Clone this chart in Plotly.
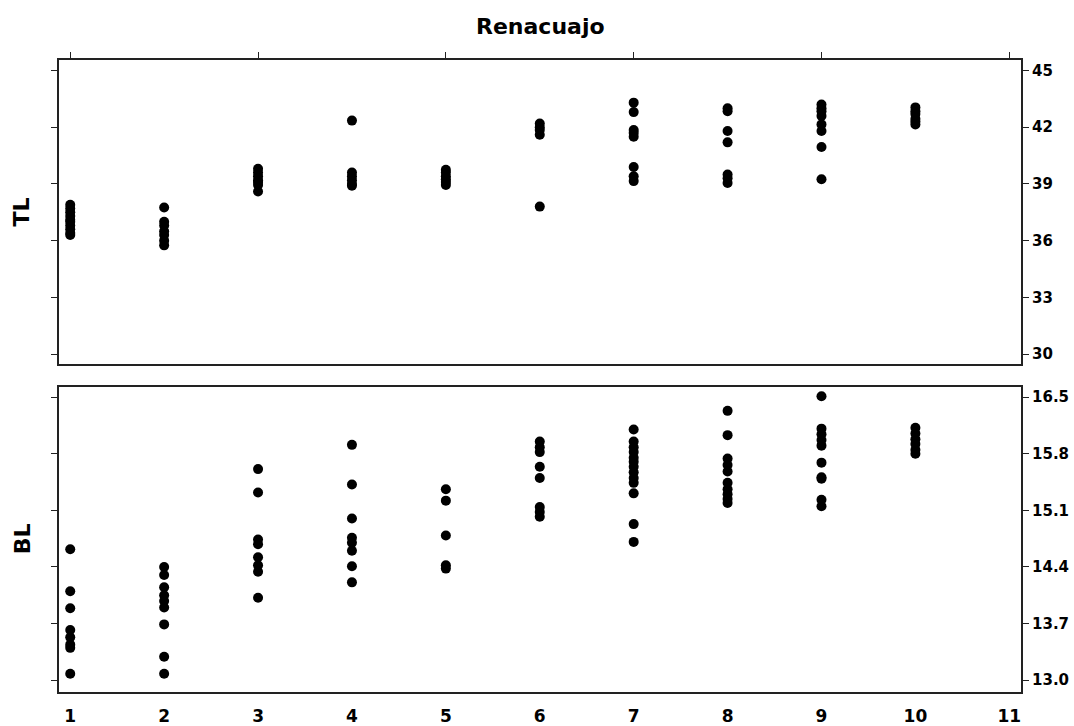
import plotly.graph_objects as go

# Tadpole number (group) on the x axis
groups = [1, 2, 3, 4, 5, 6, 7, 8, 9, 10]

# Total length (TL) per tadpole, one list per group
tl_by_group = [
    [37.9, 37.7, 37.5, 37.3, 37.1, 37.0, 36.8, 36.6, 36.4, 36.3],
    [37.75, 37.0, 36.8, 36.5, 36.3, 36.0, 35.75],
    [39.8, 39.6, 39.4, 39.2, 39.1, 38.95, 38.6],
    [42.35, 39.6, 39.4, 39.2, 39.0, 38.9],
    [39.75, 39.6, 39.4, 39.25, 39.1, 38.95],
    [42.2, 42.0, 41.85, 41.6, 37.8],
    [43.3, 42.8, 41.85, 41.7, 41.5, 39.9, 39.4, 39.15],
    [43.0, 42.85, 41.8, 41.2, 39.5, 39.3, 39.05],
    [43.2, 43.0, 42.85, 42.6, 42.15, 41.8, 40.95, 39.25],
    [43.05, 42.85, 42.7, 42.45, 42.3, 42.15],
]

# Body length (BL) per tadpole, one list per group
bl_by_group = [
    [14.62, 14.10, 13.89, 13.62, 13.53, 13.44, 13.40, 13.08],
    [14.40, 14.30, 14.15, 14.05, 13.98, 13.90, 13.69, 13.29, 13.08],
    [15.61, 15.32, 14.74, 14.68, 14.52, 14.42, 14.34, 14.02],
    [15.91, 15.42, 15.00, 14.76, 14.70, 14.60, 14.41, 14.21],
    [15.36, 15.22, 14.79, 14.42, 14.38],
    [15.95, 15.88, 15.82, 15.64, 15.50, 15.14, 15.08, 15.02],
    [16.10, 15.95, 15.88, 15.82, 15.75, 15.70, 15.64, 15.57, 15.50, 15.44, 15.31, 14.93, 14.71],
    [16.33, 16.03, 15.74, 15.66, 15.58, 15.44, 15.36, 15.30, 15.24, 15.19],
    [16.51, 16.11, 16.04, 15.97, 15.90, 15.69, 15.51, 15.49, 15.23, 15.15],
    [16.12, 16.05, 15.98, 15.92, 15.85, 15.80],
]

x_ticks_all = list(range(1, 12))
x_ticks_odd = [1, 3, 5, 7, 9, 11]
tl_ticks = [30, 33, 36, 39, 42, 45]
bl_ticks = [13.0, 13.7, 14.4, 15.1, 15.8, 16.5]
bl_tick_text = ["13.0", "13.7", "14.4", "15.1", "15.8", "16.5"]


def flatten(values_by_group):
    xs, ys = [], []
    for g, vals in zip(groups, values_by_group):
        xs.extend([g] * len(vals))
        ys.extend(vals)
    return xs, ys


tl_x, tl_y = flatten(tl_by_group)
bl_x, bl_y = flatten(bl_by_group)

marker = dict(color="black", size=10, line=dict(width=0))

fig = go.Figure()
fig.add_trace(go.Scatter(x=tl_x, y=tl_y, mode="markers", marker=marker,
                         xaxis="x", yaxis="y", showlegend=False))
fig.add_trace(go.Scatter(x=bl_x, y=bl_y, mode="markers", marker=marker,
                         xaxis="x2", yaxis="y2", showlegend=False))

x_range = [0.88, 11.125]
x_dom = [0.0549, 0.9507]
frame = dict(showline=True, linecolor="#222222", linewidth=2, showgrid=False,
             zeroline=False, tickcolor="#222222", tickwidth=1)
num_font = dict(family="DejaVu Sans", size=15, color="black", weight="bold")

fig.update_layout(
    width=1074, height=726,
    margin=dict(l=0, r=0, t=0, b=0),
    paper_bgcolor="white", plot_bgcolor="white",
    xaxis=dict(**frame, domain=x_dom, range=x_range, anchor="y", side="top",
               mirror=True, tickvals=x_ticks_odd, ticks="outside", ticklen=6,
               showticklabels=False),
    yaxis=dict(**frame, domain=[0.4945, 0.9174], range=[29.45, 45.58],
               anchor="x", side="right", mirror="ticks", tickvals=tl_ticks,
               ticks="outside", ticklen=6, tickfont=num_font),
    xaxis2=dict(**frame, domain=x_dom, range=x_range, anchor="y2", side="bottom",
                mirror=True, tickvals=x_ticks_all, ticks="", ticklabelstandoff=8,
                tickfont=dict(family="DejaVu Sans", size=17, color="black",
                              weight="bold")),
    xaxis3=dict(range=x_range, overlaying="x2", anchor="y2", side="bottom",
                showline=False, showgrid=False, zeroline=False,
                tickvals=x_ticks_odd, ticks="outside", ticklen=6,
                tickcolor="#222222", tickwidth=1, showticklabels=False),
    yaxis2=dict(**frame, domain=[0.0404, 0.4638], range=[12.856, 16.63],
                anchor="x2", side="right", mirror="ticks", tickvals=bl_ticks,
                ticktext=bl_tick_text, ticks="outside", ticklen=6,
                tickfont=num_font),
)

label_font = dict(family="DejaVu Sans", size=22, color="black", weight="bold")
fig.add_annotation(text="Renacuajo", x=0.5028, y=1 - 27 / 726, xref="paper",
                   yref="paper", showarrow=False, xanchor="center",
                   yanchor="middle", font=label_font)
fig.add_annotation(text="TL", x=22 / 1074, y=1 - 214 / 726, xref="paper",
                   yref="paper", showarrow=False, textangle=-90,
                   xanchor="center", yanchor="middle", font=label_font)
fig.add_annotation(text="BL", x=22 / 1074, y=1 - 543 / 726, xref="paper",
                   yref="paper", showarrow=False, textangle=-90,
                   xanchor="center", yanchor="middle", font=label_font)

fig.write_html("out.html")
